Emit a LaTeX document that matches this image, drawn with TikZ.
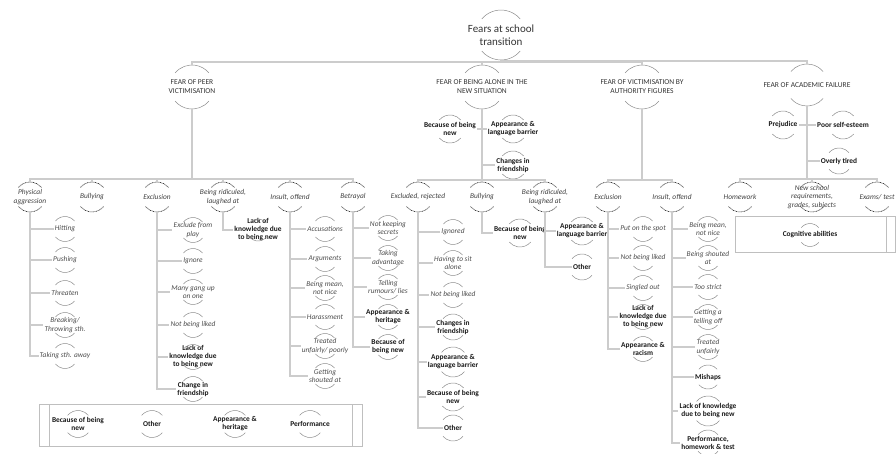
\documentclass[tikz,border=0pt]{standalone}
\usepackage{fontspec}
\setmainfont{Carlito}
\newcommand\ringarcs[3]{%
  \draw[#1] ([shift={(220:#3)}]#2.center) arc[start angle=220, end angle=320, radius=#3];
  \draw[#1] ([shift={(40:#3)}]#2.center) arc[start angle=40, end angle=140, radius=#3];}
\newcommand\cnode[6]{\node[#1] (#2) at (#3) {#6}; \ringarcs{#4}{#2}{#5}}
\begin{document}
\begin{tikzpicture}[x=1pt,y=-1pt,
  conn/.style={draw=black!20, line width=1.4pt},
  boxln/.style={draw=black!25, line width=0.8pt},
  arcg/.style={draw=black!45, line width=0.5pt},
  arcd/.style={draw=black!90, line width=0.6pt, dash pattern=on 0.9pt off 0.7pt},
  rootlbl/.style={align=center, inner sep=1pt, text=black!80, font=\fontsize{11}{13}\selectfont},
  lone/.style={align=center, inner sep=1pt, text=black!80, font=\fontsize{7.5}{9}\selectfont},
  catlbl/.style={align=center, inner sep=1pt, text=black!75, font=\fontsize{7.4}{8.2}\selectfont\itshape},
  itl/.style={align=center, inner sep=1pt, text=black!70, font=\fontsize{7.4}{8.2}\selectfont\itshape},
  bld/.style={align=center, inner sep=1pt, text=black!90, font=\fontsize{7.4}{8}\selectfont\bfseries}]
\useasboundingbox (0,0) rectangle (896,453);
% root and level 1
\cnode{rootlbl}{root}{501,35}{arcg}{25}{Fears at school\\transition}
\cnode{lone}{pv}{192,87}{arcg}{22}{FEAR OF PEER\\VICTIMISATION}
\cnode{lone}{al}{482,87}{arcg}{22}{FEAR OF BEING ALONE IN THE\\NEW SITUATION}
\cnode{lone}{au}{642,87}{arcg}{22}{FEAR OF VICTIMISATION BY\\AUTHORITY FIGURES}
\cnode{lone}{ac}{807,85}{arcg}{21}{FEAR OF ACADEMIC FAILURE}
% categories
\cnode{catlbl}{c1}{30,197}{arcd}{15}{Physical\\aggression}
\cnode{catlbl}{c2}{92,197}{arcd}{15}{Bullying}
\cnode{catlbl}{c3}{157,197}{arcd}{15}{Exclusion}
\cnode{catlbl}{c4}{223,197}{arcd}{15}{Being ridiculed,\\laughed at}
\cnode{catlbl}{c5}{290,197}{arcd}{15}{Insult, offend}
\cnode{catlbl}{c6}{353,197}{arcd}{15}{Betrayal}
\cnode{catlbl}{c7}{418,197}{arcd}{15}{Excluded, rejected}
\cnode{catlbl}{c8}{482,197}{arcd}{15}{Bullying}
\cnode{catlbl}{c9}{545,197}{arcd}{15}{Being ridiculed,\\laughed at}
\cnode{catlbl}{c10}{608,197}{arcd}{15}{Exclusion}
\cnode{catlbl}{c11}{672,197}{arcd}{15}{Insult, offend}
\cnode{catlbl}{c12}{740,197}{arcd}{15}{Homework}
\cnode{catlbl}{c13}{812,197}{arcd}{15}{New school\\requirements,\\grades, subjects}
\cnode{catlbl}{c14}{877,197}{arcd}{15}{Exams/ test}
% physical aggression
\cnode{itl}{a1}{65,229}{arcg}{12.5}{Hitting}
\cnode{itl}{a2}{65,260}{arcg}{12.5}{Pushing}
\cnode{itl}{a3}{65,293}{arcg}{12.5}{Threaten}
\cnode{itl}{a4}{65,325}{arcg}{12.5}{Breaking/\\Throwing sth.}
\cnode{itl}{a5}{65,356}{arcg}{12.5}{Taking sth. away}
% exclusion (peer)
\cnode{itl}{b1}{193,230}{arcg}{12.5}{Exclude from\\play}
\cnode{itl}{b2}{193,261}{arcg}{12.5}{Ignore}
\cnode{itl}{b3}{193,292}{arcg}{12.5}{Many gang up\\on one}
\cnode{itl}{b4}{193,325}{arcg}{12.5}{Not being liked}
\cnode{bld}{b5}{193,357}{arcg}{12.5}{Lack of\\knowledge due\\to being new}
\cnode{bld}{b6}{193,389}{arcg}{12.5}{Change in\\friendship}
% ridiculed (peer)
\cnode{bld}{d1}{258,230}{arcg}{11}{Lack of\\knowledge due\\to being new}
% insult (peer)
\cnode{itl}{e1}{325,229}{arcg}{12.5}{Accusations}
\cnode{itl}{e2}{325,259}{arcg}{12.5}{Arguments}
\cnode{itl}{e3}{325,288}{arcg}{12.5}{Being mean,\\not nice}
\cnode{itl}{e4}{325,317}{arcg}{12.5}{Harassment}
\cnode{itl}{e5}{325,346}{arcg}{12.5}{Treated\\unfairly/ poorly}
\cnode{itl}{e6}{325,376}{arcg}{12.5}{Getting\\shouted at}
% betrayal
\cnode{itl}{f1}{388,228}{arcg}{12.5}{Not keeping\\secrets}
\cnode{itl}{f2}{388,258}{arcg}{12.5}{Taking\\advantage}
\cnode{itl}{f3}{388,287}{arcg}{12.5}{Telling\\rumours/ lies}
\cnode{bld}{f4}{388,317}{arcg}{12.5}{Appearance \&\\heritage}
\cnode{bld}{f5}{388,347}{arcg}{12.5}{Because of\\being new}
% peer bottom box
\draw[boxln] (39,404) rectangle (362,446);
\draw[boxln] (49,404) rectangle (352,446);
\cnode{bld}{g1}{78,424}{arcg}{13.5}{Because of being\\new}
\cnode{bld}{g2}{152,424}{arcg}{13.5}{Other}
\cnode{bld}{g3}{235,424}{arcg}{13.5}{Appearance \&\\heritage}
\cnode{bld}{g4}{310,424}{arcg}{13.5}{Performance}
% being alone
\cnode{bld}{n1}{450,129}{arcg}{14}{Because of being\\new}
\cnode{bld}{n2}{513,129}{arcg}{14}{Appearance \&\\language barrier}
\cnode{bld}{n3}{513,165}{arcg}{14}{Changes in\\friendship}
\cnode{itl}{h1}{453,232}{arcg}{12.5}{Ignored}
\cnode{itl}{h2}{453,263}{arcg}{12.5}{Having to sit\\alone}
\cnode{itl}{h3}{453,295}{arcg}{12.5}{Not being liked}
\cnode{bld}{h4}{453,327}{arcg}{13}{Changes in\\friendship}
\cnode{bld}{h5}{453,362}{arcg}{15}{Appearance \&\\language barrier}
\cnode{bld}{h6}{453,397}{arcg}{14}{Because of being\\new}
\cnode{bld}{h7}{453,428}{arcg}{13}{Other}
\cnode{bld}{i1}{520,233}{arcg}{14}{Because of being\\new}
\cnode{bld}{j1}{582,231}{arcg}{14}{Appearance \&\\language barrier}
\cnode{bld}{j2}{582,267}{arcg}{13}{Other}
% authority
\cnode{itl}{k1}{643,229}{arcg}{12.5}{Put on the spot}
\cnode{itl}{k2}{643,258}{arcg}{12.5}{Not being liked}
\cnode{itl}{k3}{643,288}{arcg}{12.5}{Singled out}
\cnode{bld}{k4}{643,317}{arcg}{12.5}{Lack of\\knowledge due\\to being new}
\cnode{bld}{k5}{643,349}{arcg}{12.5}{Appearance \&\\racism}
\cnode{itl}{m1}{708,229}{arcg}{12.5}{Being mean,\\not nice}
\cnode{itl}{m2}{708,258}{arcg}{12.5}{Being shouted\\at}
\cnode{itl}{m3}{708,287}{arcg}{12.5}{Too strict}
\cnode{itl}{m4}{708,317}{arcg}{12.5}{Getting a\\telling off}
\cnode{itl}{m5}{708,347}{arcg}{12.5}{Treated\\unfairly}
\cnode{bld}{m6}{708,377}{arcg}{12}{Mishaps}
\cnode{bld}{m7}{708,411}{arcg}{15}{Lack of knowledge\\due to being new}
\cnode{bld}{m8}{708,443}{arcg}{13}{Performance,\\homework \& test}
% academic
\cnode{bld}{p1}{783,125}{arcg}{14}{Prejudice}
\cnode{bld}{p2}{843,125}{arcg}{14}{Poor self-esteem}
\cnode{bld}{p3}{839,161}{arcg}{13}{Overly tired}
\draw[boxln] (735,216) rectangle (886,252);
\draw[boxln] (735,216) rectangle (895.5,252);
\cnode{bld}{q1}{810,235}{arcg}{11.5}{Cognitive abilities}
% connectors: root to level 1
\foreach \t/\r in {pv/22,al/22,au/22,ac/21}
  \draw[conn] ([shift={(0,25)}]root.center) |- ([shift={(0,-\r-3)}]\t.center) -- ([shift={(0,-\r)}]\t.center);
% level 1 to categories
\foreach \c in {c1,c2,c3,c4,c5,c6}
  \draw[conn] ([shift={(0,22)}]pv.center) |- ([shift={(0,-18)}]\c.center) -- ([shift={(0,-15)}]\c.center);
\foreach \c in {c7,c8,c9}
  \draw[conn] ([shift={(0,22)}]al.center) |- ([shift={(0,-17)}]\c.center) -- ([shift={(0,-15)}]\c.center);
\foreach \c in {c10,c11}
  \draw[conn] ([shift={(0,22)}]au.center) |- ([shift={(0,-17)}]\c.center) -- ([shift={(0,-15)}]\c.center);
\foreach \c in {c12,c13,c14}
  \draw[conn] ([shift={(0,21)}]ac.center) |- ([shift={(0,-18)}]\c.center) -- ([shift={(0,-15)}]\c.center);
% direct children of level 1
\draw[conn] (n1.east) -- (n2.west);
\draw[conn] ([shift={(0,22)}]al.center) |- (n3.west);
\draw[conn] (p1.east) -- (p2.west);
\draw[conn] ([shift={(0,21)}]ac.center) |- (p3.west);
% categories to leaves
\foreach \l in {a1,a2,a3,a4,a5}
  \draw[conn] ([shift={(0,15)}]c1.center) |- (\l.west);
\foreach \l in {b1,b2,b3,b4,b5,b6}
  \draw[conn] ([shift={(0,15)}]c3.center) |- (\l.west);
\draw[conn] ([shift={(0,15)}]c4.center) |- (d1.west);
\foreach \l in {e1,e2,e3,e4,e5,e6}
  \draw[conn] ([shift={(0,15)}]c5.center) |- (\l.west);
\foreach \l in {f1,f2,f3,f4,f5}
  \draw[conn] ([shift={(0,15)}]c6.center) |- (\l.west);
\foreach \l in {h1,h2,h3,h4,h5,h6,h7}
  \draw[conn] ([shift={(0,15)}]c7.center) |- (\l.west);
\draw[conn] ([shift={(0,15)}]c8.center) |- (i1.west);
\foreach \l in {j1,j2}
  \draw[conn] ([shift={(0,15)}]c9.center) |- (\l.west);
\foreach \l in {k1,k2,k3,k4,k5}
  \draw[conn] ([shift={(0,15)}]c10.center) |- (\l.west);
\foreach \l in {m1,m2,m3,m4,m5,m6,m7,m8}
  \draw[conn] ([shift={(0,15)}]c11.center) |- (\l.west);
\end{tikzpicture}
\end{document}
